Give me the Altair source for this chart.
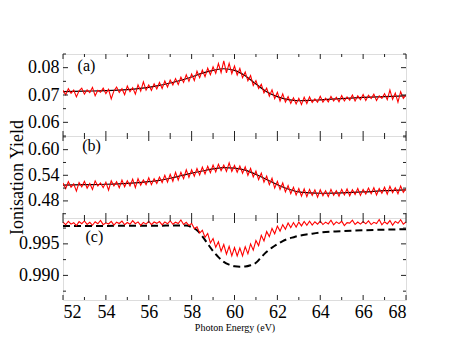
import altair as alt
import pandas as pd

FONT = "Liberation Serif"
W, H = 343, 82

# photon energy grid of the measured spectra (eV)
energy = [52 + 0.125 * i for i in range(129)]

# (a) measured yield
yield_a = [
    0.0717, 0.0701, 0.0723, 0.0706, 0.0718, 0.0693, 0.0715, 0.0725, 0.0703, 0.0719,
    0.0709, 0.0728, 0.0697, 0.0717, 0.0710, 0.0725, 0.0705, 0.0721, 0.0686, 0.0715,
    0.0729, 0.0709, 0.0723, 0.0701, 0.0733, 0.0712, 0.0727, 0.0703, 0.0737, 0.0714,
    0.0748, 0.0718, 0.0737, 0.0717, 0.0741, 0.0722, 0.0746, 0.0724, 0.0751, 0.0729,
    0.0755, 0.0737, 0.0760, 0.0738, 0.0765, 0.0746, 0.0774, 0.0750, 0.0777, 0.0753,
    0.0787, 0.0763, 0.0791, 0.0767, 0.0798, 0.0774, 0.0803, 0.0779, 0.0815, 0.0782,
    0.0825, 0.0781, 0.0816, 0.0778, 0.0806, 0.0773, 0.0797, 0.0763, 0.0784, 0.0752,
    0.0771, 0.0735, 0.0753, 0.0724, 0.0739, 0.0708, 0.0725, 0.0696, 0.0719, 0.0687,
    0.0710, 0.0678, 0.0704, 0.0674, 0.0694, 0.0669, 0.0690, 0.0667, 0.0688, 0.0665,
    0.0692, 0.0669, 0.0693, 0.0673, 0.0686, 0.0674, 0.0695, 0.0674, 0.0688, 0.0675,
    0.0695, 0.0678, 0.0692, 0.0675, 0.0698, 0.0678, 0.0693, 0.0681, 0.0700, 0.0678,
    0.0697, 0.0683, 0.0702, 0.0680, 0.0699, 0.0687, 0.0703, 0.0680, 0.0697, 0.0688,
    0.0705, 0.0683, 0.0718, 0.0684, 0.0707, 0.0674, 0.0712, 0.0688, 0.0701,
]

# (b) measured yield
yield_b = [
    0.522, 0.509, 0.525, 0.512, 0.520, 0.503, 0.523, 0.513, 0.526, 0.510,
    0.521, 0.507, 0.527, 0.515, 0.522, 0.511, 0.524, 0.505, 0.527, 0.515,
    0.525, 0.511, 0.529, 0.513, 0.527, 0.515, 0.531, 0.511, 0.532, 0.517,
    0.529, 0.518, 0.534, 0.518, 0.532, 0.521, 0.536, 0.523, 0.540, 0.524,
    0.542, 0.526, 0.547, 0.529, 0.547, 0.532, 0.553, 0.535, 0.553, 0.538,
    0.556, 0.541, 0.559, 0.543, 0.561, 0.546, 0.564, 0.548, 0.566, 0.551,
    0.564, 0.549, 0.569, 0.549, 0.563, 0.547, 0.562, 0.545, 0.560, 0.540,
    0.556, 0.536, 0.550, 0.530, 0.545, 0.524, 0.538, 0.518, 0.533, 0.510,
    0.526, 0.507, 0.522, 0.501, 0.516, 0.497, 0.512, 0.494, 0.509, 0.491,
    0.508, 0.490, 0.507, 0.493, 0.506, 0.489, 0.506, 0.492, 0.504, 0.490,
    0.507, 0.493, 0.504, 0.491, 0.507, 0.494, 0.508, 0.492, 0.506, 0.495,
    0.509, 0.493, 0.507, 0.496, 0.510, 0.497, 0.511, 0.494, 0.509, 0.498,
    0.512, 0.496, 0.514, 0.499, 0.511, 0.497, 0.515, 0.500, 0.509,
]

# (c) measured yield
yield_c = [
    0.99846, 0.99803, 0.99858, 0.99813, 0.99836, 0.99788, 0.99853, 0.99820, 0.99863, 0.99808,
    0.99841, 0.99795, 0.99851, 0.99818, 0.99871, 0.99805, 0.99833, 0.99815, 0.99856, 0.99798,
    0.99843, 0.99823, 0.99861, 0.99803, 0.99838, 0.99810, 0.99868, 0.99820, 0.99848, 0.99793,
    0.99841, 0.99813, 0.99858, 0.99805, 0.99846, 0.99825, 0.99853, 0.99800, 0.99848, 0.99818,
    0.99866, 0.99810, 0.99843, 0.99823, 0.99878, 0.99808, 0.99841, 0.99790, 0.99825, 0.99742,
    0.99770, 0.99672, 0.99715, 0.99602, 0.99665, 0.99515, 0.99585, 0.99445, 0.99533, 0.99382,
    0.99490, 0.99337, 0.99460, 0.99310, 0.99440, 0.99307, 0.99435, 0.99310, 0.99455, 0.99342,
    0.99500, 0.99400, 0.99553, 0.99472, 0.99635, 0.99547, 0.99695, 0.99615, 0.99745, 0.99660,
    0.99783, 0.99702, 0.99805, 0.99732, 0.99830, 0.99757, 0.99838, 0.99767, 0.99845, 0.99785,
    0.99855, 0.99793, 0.99858, 0.99798, 0.99851, 0.99813, 0.99861, 0.99806, 0.99844, 0.99816,
    0.99874, 0.99801, 0.99849, 0.99821, 0.99859, 0.99791, 0.99836, 0.99829, 0.99876, 0.99808,
    0.99846, 0.99813, 0.99854, 0.99818, 0.99864, 0.99806, 0.99841, 0.99823, 0.99886, 0.99803,
    0.99851, 0.99816, 0.99869, 0.99796, 0.99856, 0.99826, 0.99884, 0.99811, 0.99846,
]

# smooth (black) curves under the measured data in (a) and (b)
smooth_x = [52, 53, 54, 55, 56, 56.5, 57, 57.5, 58, 58.5, 59, 59.5, 60, 60.5,
            61, 61.5, 62, 62.5, 63, 63.5, 64, 65, 66, 67, 68]
smooth_a = [0.0712, 0.0714, 0.0716, 0.0720, 0.0728, 0.0735, 0.0744, 0.0754, 0.0766,
            0.0780, 0.0790, 0.0796, 0.0790, 0.0770, 0.0740, 0.0712, 0.0694, 0.0683,
            0.0679, 0.0680, 0.0682, 0.0687, 0.0691, 0.0694, 0.0697]
smooth_b = [0.517, 0.518, 0.519, 0.521, 0.525, 0.528, 0.533, 0.539, 0.545, 0.550,
            0.555, 0.558, 0.557, 0.552, 0.542, 0.530, 0.518, 0.508, 0.501, 0.499,
            0.498, 0.499, 0.501, 0.504, 0.506]

# dashed (theory) curve in (c)
theory_x = [52, 53, 54, 55, 56, 56.5, 57, 57.5, 57.75, 58, 58.25, 58.5, 58.75, 59,
            59.25, 59.5, 59.75, 60, 60.25, 60.5, 60.75, 61, 61.25, 61.5, 61.75, 62,
            62.25, 62.5, 62.75, 63, 63.5, 64, 65, 66, 67, 68]
theory_c = [0.99785, 0.99785, 0.99785, 0.99786, 0.99787, 0.99788, 0.99790, 0.99792,
            0.99790, 0.99765, 0.99715, 0.99620, 0.99500, 0.99385, 0.99290, 0.99215,
            0.99170, 0.99145, 0.99138, 0.99140, 0.99160, 0.99200, 0.99290, 0.99375,
            0.99440, 0.99495, 0.99545, 0.99580, 0.99605, 0.99628, 0.99655, 0.99680,
            0.99700, 0.99715, 0.99725, 0.99732]

x_major = [52, 54, 56, 58, 60, 62, 64, 66, 68]
x_minor = [53, 55, 57, 59, 61, 63, 65, 67]

panels = [
    dict(y=yield_a, smooth=smooth_a, domain=[0.055, 0.085],
         major=[0.06, 0.07, 0.08], minor=[0.055, 0.065, 0.075, 0.085], fmt=".2f",
         label="(a)", lx=52.68, ly=0.0806),
    dict(y=yield_b, smooth=smooth_b, domain=[0.44, 0.632],
         major=[0.48, 0.54, 0.60], minor=[0.45, 0.51, 0.57, 0.63], fmt=".2f",
         label="(b)", lx=52.9, ly=0.609),
    dict(y=yield_c, smooth=None, domain=[0.9861, 0.9991],
         major=[0.990, 0.995], minor=[0.9875, 0.9925, 0.9975], fmt=".3f",
         label="(c)", lx=53.05, ly=0.99606),
]

TICK_COLOR = "#222"


def build(i, p):
    last = i == len(panels) - 1
    xscale = alt.Scale(domain=[52, 68], nice=False, zero=False)
    yscale = alt.Scale(domain=p["domain"], nice=False, zero=False)
    if last:
        xaxis = alt.Axis(values=x_major, format="d", ticks=False, domain=False, grid=False,
                         labelFont=FONT, labelFontSize=18, labelPadding=3, labelColor="black",
                         title="Photon Energy (eV)", titleFont=FONT, titleFontSize=10,
                         titleFontWeight="normal", titleColor="black", titlePadding=1)
    else:
        xaxis = alt.Axis(values=x_major, labels=False, ticks=False, domain=False,
                         grid=False, title=None)
    yargs = dict(values=p["major"], format=p["fmt"], ticks=False, domain=False, grid=False,
                 labelFont=FONT, labelFontSize=18, labelPadding=4, labelColor="black")
    if i == 1:
        yargs.update(title="Ionisation Yield", titleFont=FONT, titleFontSize=18,
                     titleFontWeight="normal", titleColor="black", titlePadding=1)
    else:
        yargs.update(title=None)
    yaxis = alt.Axis(**yargs)
    xe = alt.X("x:Q", scale=xscale, axis=xaxis)
    ye = alt.Y("y:Q", scale=yscale, axis=yaxis)

    layers = []
    if p["smooth"] is not None:
        sdf = pd.DataFrame({"x": smooth_x, "y": p["smooth"]})
        layers.append(alt.Chart(sdf).mark_line(color="black", strokeWidth=1.2,
                                               interpolate="monotone").encode(x=xe, y=ye))
    else:
        tdf = pd.DataFrame({"x": theory_x, "y": theory_c})
        layers.append(alt.Chart(tdf).mark_line(color="black", strokeWidth=2,
                                               strokeDash=[7, 4],
                                               interpolate="monotone").encode(x=xe, y=ye))
    rdf = pd.DataFrame({"x": energy, "y": p["y"]})
    layers.append(alt.Chart(rdf).mark_line(color="#ff0000", strokeWidth=1.1, clip=True)
                  .encode(x=xe, y=ye))

    # inward ticks on all four sides
    for vals, ln in ((x_major, 5), (x_minor, 3)):
        tdf = pd.DataFrame({"x": vals})
        layers.append(alt.Chart(tdf).mark_rule(color=TICK_COLOR, strokeWidth=1).encode(
            x=xe, y=alt.value(H), y2=alt.value(H - ln)))
        layers.append(alt.Chart(tdf).mark_rule(color=TICK_COLOR, strokeWidth=1).encode(
            x=xe, y=alt.value(0), y2=alt.value(ln)))
    for vals, ln in ((p["major"], 5), (p["minor"], 3)):
        tdf = pd.DataFrame({"y": vals})
        layers.append(alt.Chart(tdf).mark_rule(color=TICK_COLOR, strokeWidth=1).encode(
            y=ye, x=alt.value(0), x2=alt.value(ln)))
        layers.append(alt.Chart(tdf).mark_rule(color=TICK_COLOR, strokeWidth=1).encode(
            y=ye, x=alt.value(W), x2=alt.value(W - ln)))

    ldf = pd.DataFrame({"x": [p["lx"]], "y": [p["ly"]], "t": [p["label"]]})
    layers.append(alt.Chart(ldf).mark_text(font=FONT, fontSize=16, align="left",
                                           baseline="middle", color="black")
                  .encode(x=xe, y=ye, text="t:N"))
    return alt.layer(*layers).properties(width=W, height=H)


chart = alt.vconcat(*[build(i, p) for i, p in enumerate(panels)], spacing=0,
                    bounds="flush").properties(
    padding={"left": 0, "top": 45, "right": 0, "bottom": 0}
).configure_view(stroke="#222", strokeWidth=1).configure_axis(
    labelFont=FONT, titleFont=FONT
).configure_text(font=FONT).configure(background="white")

chart.save("out.html", embed_options={"renderer": "svg", "actions": False})
